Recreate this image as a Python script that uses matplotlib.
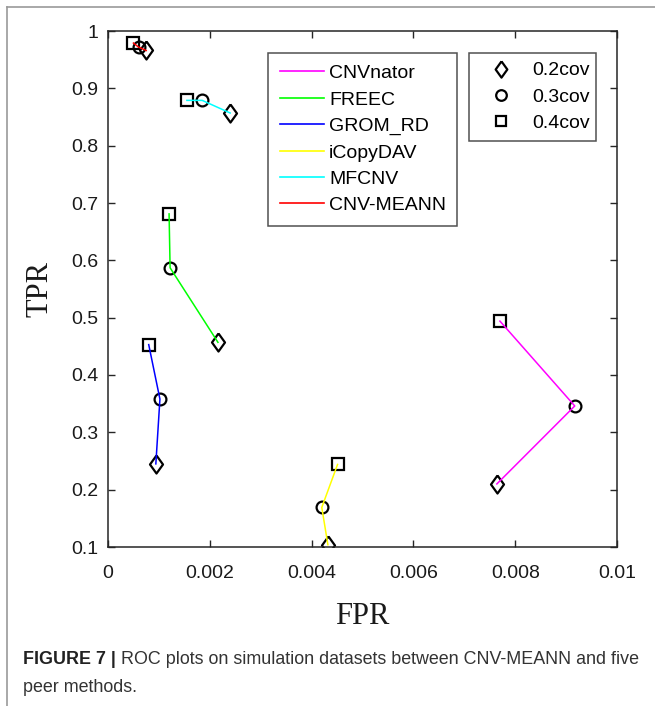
import numpy as np
import matplotlib
matplotlib.use('Agg')
import matplotlib.pyplot as plt
from matplotlib.lines import Line2D

plt.rcParams['font.family'] = ['Liberation Sans', 'DejaVu Sans']

# FPR / TPR per method at 0.2cov, 0.3cov, 0.4cov
methods = ['CNVnator', 'FREEC', 'GROM_RD', 'iCopyDAV', 'MFCNV', 'CNV-MEANN']
colors = ['#FF00FF', '#00FF00', '#0000FF', '#FFFF00', '#00FFFF', '#FF0000']
cov_labels = ['0.2cov', '0.3cov', '0.4cov']

fpr_cnvnator = [0.00764, 0.00917, 0.00770]
tpr_cnvnator = [0.210, 0.346, 0.494]
fpr_freec = [0.00216, 0.00122, 0.00120]
tpr_freec = [0.457, 0.587, 0.681]
fpr_grom = [0.00094, 0.00102, 0.00080]
tpr_grom = [0.245, 0.358, 0.453]
fpr_icopy = [0.00432, 0.00420, 0.00451]
tpr_icopy = [0.104, 0.169, 0.244]
fpr_mfcnv = [0.00240, 0.00185, 0.00155]
tpr_mfcnv = [0.857, 0.879, 0.879]
fpr_meann = [0.00075, 0.00060, 0.00050]
tpr_meann = [0.966, 0.972, 0.979]

all_fpr = [fpr_cnvnator, fpr_freec, fpr_grom, fpr_icopy, fpr_mfcnv, fpr_meann]
all_tpr = [tpr_cnvnator, tpr_freec, tpr_grom, tpr_icopy, tpr_mfcnv, tpr_meann]

xticks = [0, 0.002, 0.004, 0.006, 0.008, 0.01]
xticklabels = ['0', '0.002', '0.004', '0.006', '0.008', '0.01']
yticks = [0.1, 0.2, 0.3, 0.4, 0.5, 0.6, 0.7, 0.8, 0.9, 1.0]
yticklabels = ['0.1', '0.2', '0.3', '0.4', '0.5', '0.6', '0.7', '0.8', '0.9', '1']

W, H = 655, 706
fig = plt.figure(figsize=(W/100, H/100), dpi=100)

# panel frame lines (top and left)
fig.add_artist(Line2D([7/W, 1], [1-7/H, 1-7/H], transform=fig.transFigure, color='#9a9a9a', lw=1.2))
fig.add_artist(Line2D([7/W, 7/W], [0, 1-7/H], transform=fig.transFigure, color='#9a9a9a', lw=1.2))

ax = fig.add_axes([108/W, 1-547/H, 509/W, 516/H])

diamond = [(0, 1), (0.72, 0), (0, -1), (-0.72, 0), (0, 1)]
mk = [diamond, 'o', 's']
ms = [13, 8.5, 8]

for i in range(len(methods)):
    for j in range(3):
        ax.plot(all_fpr[i][j], all_tpr[i][j], marker=mk[j], ms=ms[j], mfc='none',
                mec='black', mew=1.6, ls='none', zorder=2)
    ax.plot(all_fpr[i], all_tpr[i], color=colors[i], lw=1.1, zorder=3)

ax.set_xlim(0, 0.01)
ax.set_ylim(0.1, 1.0)
ax.set_xticks(xticks)
ax.set_xticklabels(xticklabels)
ax.set_yticks(yticks)
ax.set_yticklabels(yticklabels)
ax.tick_params(direction='in', length=5, width=1, colors='#262626', labelsize=14,
               top=True, right=True, labelcolor='#1a1a1a')
ax.tick_params(axis='x', pad=13)
ax.tick_params(axis='y', pad=7)
for s in ax.spines.values():
    s.set_color('#262626')
    s.set_linewidth(1.1)

fig.text(362/W, 1-616/H, 'FPR', family='Liberation Serif', fontsize=22, ha='center', va='center', color='#1a1a1a')
fig.text(40/W, 1-289/H, 'TPR', family='Liberation Serif', fontsize=22, ha='center', va='center',
         rotation=90, color='#1a1a1a')

h1 = [Line2D([], [], color=c, lw=1.2) for c in colors]
leg1 = fig.legend(h1, methods, loc='upper left', mode='expand',
                  bbox_to_anchor=(268/W, 1-53/H-0.01, (457-268)/W, 0.01),
                  bbox_transform=fig.transFigure, fontsize=14, frameon=True, fancybox=False,
                  edgecolor='#262626', borderpad=0.6, labelspacing=0.45, handlelength=2.3,
                  handletextpad=0.25, borderaxespad=0)
leg1.get_frame().set_linewidth(1.1)

h2 = [Line2D([], [], marker=mk[j], ms=ms[j] * 0.9, mfc='none', mec='black', mew=1.6, ls='none')
      for j in range(3)]
leg2 = fig.legend(h2, cov_labels, loc='upper left', mode='expand',
                  bbox_to_anchor=(469/W, 1-53/H-0.01, (596-469)/W, 0.01),
                  bbox_transform=fig.transFigure, fontsize=14, frameon=True, fancybox=False,
                  edgecolor='#262626', borderpad=0.45, labelspacing=0.45, handlelength=2.4,
                  handletextpad=0.4, borderaxespad=0)
leg2.get_frame().set_linewidth(1.1)

# caption
t1 = fig.text(23/W, 1-660/H, 'FIGURE 7 |', fontsize=12.9, fontweight='bold', va='center', color='#222222')
r = fig.canvas.get_renderer()
bb = t1.get_window_extent(renderer=r)
fig.text((bb.x1 + 5)/W, 1-660/H, 'ROC plots on simulation datasets between CNV-MEANN and five',
         fontsize=12.9, va='center', color='#333333')
fig.text(23/W, 1-688/H, 'peer methods.', fontsize=12.9, va='center', color='#333333')

fig.savefig('out.png', dpi=100)
